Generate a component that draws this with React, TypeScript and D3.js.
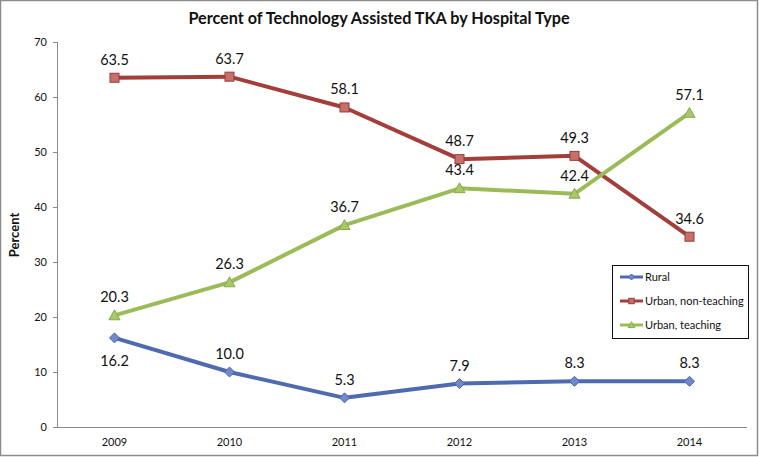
import React from "react";
import * as d3 from "d3";

const years = ["2009", "2010", "2011", "2012", "2013", "2014"];
const rural = [16.2, 10.0, 5.3, 7.9, 8.3, 8.3];
const urbanNonTeaching = [63.5, 63.7, 58.1, 48.7, 49.3, 34.6];
const urbanTeaching = [20.3, 26.3, 36.7, 43.4, 42.4, 57.1];
const yTicks = [0, 10, 20, 30, 40, 50, 60, 70];
const seriesNames = ["Rural", "Urban, non-teaching", "Urban, teaching"];
// label placement: 1 = above, -1 = below
const ruralLabelPos = [-1, 1, 1, 1, 1, 1];

const W = 759;
const H = 457;
const FONT = "Lato, 'Open Sans', sans-serif";

export default function App() {
  const x = d3.scalePoint<string>().domain(years).range([57, 747]).padding(0.5);
  const y = d3.scaleLinear().domain([0, 70]).range([427, 42]);

  const series = [
    { name: seriesNames[0], values: rural, color: "#4F6BB0", fill: "#6F89CC", stroke: "#4A64A6", marker: "diamond", pos: ruralLabelPos },
    { name: seriesNames[1], values: urbanNonTeaching, color: "#A33E3B", fill: "#C6706C", stroke: "#96393A", marker: "square", pos: years.map(() => 1) },
    { name: seriesNames[2], values: urbanTeaching, color: "#9BBB59", fill: "#A9C86A", stroke: "#88A84A", marker: "triangle", pos: years.map(() => 1) },
  ];

  const line = d3
    .line<number>()
    .x((_, i) => x(years[i]) as number)
    .y((d) => y(d));

  const marker = (kind: string, cx: number, cy: number, fill: string, stroke: string, key: string, s = 1) => {
    if (kind === "diamond") {
      const r = 5 * s;
      return <path key={key} d={`M${cx},${cy - r}L${cx + r},${cy}L${cx},${cy + r}L${cx - r},${cy}Z`} fill={fill} stroke={stroke} strokeWidth={1} />;
    }
    if (kind === "square") {
      const r = 4.5 * s;
      return <rect key={key} x={cx - r} y={cy - r} width={2 * r} height={2 * r} fill={fill} stroke={stroke} strokeWidth={1} />;
    }
    const r = 5.5 * s;
    return <path key={key} d={`M${cx},${cy - r}L${cx + r},${cy + r * 0.8}L${cx - r},${cy + r * 0.8}Z`} fill={fill} stroke={stroke} strokeWidth={1} />;
  };

  return (
    <svg width={W} height={H} style={{ display: "block", position: "absolute", left: 0, top: 0 }} fontFamily={FONT}>
      <rect x={0} y={0} width={W} height={H} fill="#fff" />
      <rect x={0.5} y={0.5} width={W - 2} height={H - 2} fill="none" stroke="#8c8c8c" strokeWidth={1.5} />
      <text x={379} y={24} textAnchor="middle" fontSize={16.2} fontWeight="bold" fill="#111">
        Percent of Technology Assisted TKA by Hospital Type
      </text>
      <text transform={`translate(19,235) rotate(-90)`} textAnchor="middle" fontSize={13} fontWeight="bold" fill="#111">
        Percent
      </text>
      {/* y axis */}
      <line x1={57.5} x2={57.5} y1={y(70)} y2={y(0)} stroke="#888" strokeWidth={1} />
      {yTicks.map((t) => (
        <g key={t}>
          <line x1={53} x2={57.5} y1={Math.round(y(t)) + 0.5} y2={Math.round(y(t)) + 0.5} stroke="#888" />
          <text x={47} y={y(t) + 4} textAnchor="end" fontSize={11} fill="#111">
            {t}
          </text>
        </g>
      ))}
      {/* x axis */}
      <line x1={57} x2={747} y1={427.5} y2={427.5} stroke="#888" strokeWidth={1} />
      {years.map((yr) => (
        <text key={yr} x={x(yr)} y={446} textAnchor="middle" fontSize={11} fill="#111">
          {yr}
        </text>
      ))}
      {/* lines */}
      {series.map((s) => (
        <g key={s.name}>
          <path d={line(s.values) || ""} fill="none" stroke={s.color} strokeWidth={4} strokeLinejoin="round" />
          {s.values.map((v, i) => marker(s.marker, x(years[i]) as number, y(v), s.fill, s.stroke, `${s.name}-${i}`))}
          {s.values.map((v, i) => (
            <text
              key={`l-${s.name}-${i}`}
              x={x(years[i])}
              y={s.pos[i] > 0 ? y(v) - 13 : y(v) + 28}
              textAnchor="middle"
              fontSize={14.5}
              fill="#111"
            >
              {v.toFixed(1)}
            </text>
          ))}
        </g>
      ))}
      {/* legend */}
      <rect x={612.5} y={265.5} width={136} height={73} fill="#fff" stroke="#111" strokeWidth={1} />
      {series.map((s, i) => {
        const ly = 277 + i * 24;
        return (
          <g key={`lg-${s.name}`}>
            <line x1={620} x2={643} y1={ly} y2={ly} stroke={s.color} strokeWidth={3} />
            {marker(s.marker, 631.5, ly, s.fill, s.stroke, `lgm-${i}`, 0.6)}
            <text x={645} y={ly + 4} fontSize={11} fill="#111">
              {s.name}
            </text>
          </g>
        );
      })}
    </svg>
  );
}
